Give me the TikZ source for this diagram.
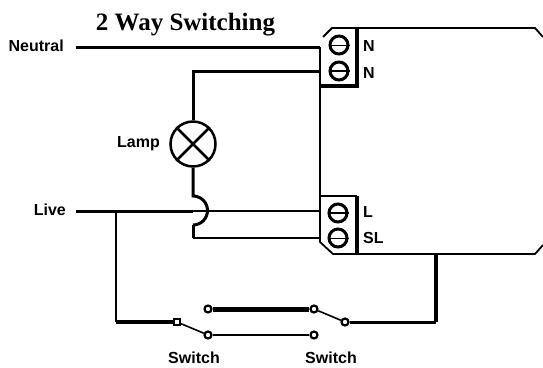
\documentclass[tikz,border=0pt]{standalone}
\usepackage{fontspec}
\setmainfont{Liberation Sans}
\newfontfamily\titlefont{Liberation Serif}
\tikzset{
  label/.style = {inner sep=0pt, font=\fontsize{16}{18}\selectfont\bfseries},
  thickwire/.style = {line width=3pt, line join=miter},
  thinwire/.style = {line width=1.6pt, line join=miter},
  casing/.style = {line width=1.8pt, line join=round},
  screw/.style = {circle, draw=black, line width=3pt, minimum size=18pt, inner sep=0pt},
  contact/.style = {circle, draw=black, fill=white, line width=2.2pt, minimum size=7pt, inner sep=0pt},
}
\begin{document}
\begin{tikzpicture}[x=1pt,y=-1pt]
\useasboundingbox (0,0) rectangle (543,367);
\node [inner sep=0pt, font=\titlefont\fontsize{25}{28}\selectfont\bfseries] (title) at (185.5,25) {2 Way Switching};
\node [label, anchor=east] (neutral) at (64,46) {Neutral};
\node [label, anchor=east] (live) at (66,210) {Live};
\node [label, anchor=east] (lamplabel) at (160,144) {Lamp};
\node [label] (switcha) at (194,358) {Switch};
\node [label] (switchb) at (331,358) {Switch};
% module outline
\coordinate (nw) at (320,47);
\coordinate (sw) at (320,242);
\draw [casing] (323,37) -- (332,28) -- (535,28) -- (543,37);
\draw [casing] (nw) -- (sw) -- (333,254) -- (535,254) -- (543,245);
\draw [casing] (320,196) -- (357,196);
\draw [line width=4pt] (357,28) -- (357,86) -- (320,86);
\draw [line width=4pt] (357,196) -- (357,254);
% terminals
\node [screw] (termn1) at (339,45) {};
\node [screw] (termn2) at (339,71) {};
\node [screw] (terml) at (338,213) {};
\node [screw] (termsl) at (338,238) {};
\draw [line width=1pt] (termn1.west) -- (termn1.east);
\draw [line width=2.5pt] (termn2.west) -- (termn2.east);
\draw [line width=2.5pt] (terml.west) -- (terml.east);
\draw [line width=1pt] (termsl.west) -- (termsl.east);
\node [label, anchor=west] (labeln1) at (363,46) {N};
\node [label, anchor=west] (labeln2) at (363,73) {N};
\node [label, anchor=west] (labell) at (363,212) {L};
\node [label, anchor=west] (labelsl) at (363,238) {SL};
% lamp
\node [circle, draw=black, line width=2.5pt, minimum size=45pt, inner sep=0pt] (lamp) at (193,144) {};
\draw [line width=2.5pt] (lamp.north west) -- (lamp.south east);
\draw [line width=2.5pt] (lamp.north east) -- (lamp.south west);
% switches
\node [contact, rectangle, minimum size=6pt] (pivota) at (177,322) {};
\node [contact] (lowa) at (208,335) {};
\node [contact] (upa) at (208,309) {};
\node [contact] (upb) at (314,309) {};
\node [contact] (lowb) at (314,335) {};
\node [contact] (pivotb) at (345,322) {};
% wires
\coordinate (hopt) at (193,196);
\coordinate (hopb) at (193,225);
\coordinate (bend) at (193,238);
\coordinate (tee) at (116,211);
\coordinate (drop) at (116,322);
\coordinate (feed) at (436,322);
\draw [thickwire] (76,47) coordinate (neutralend) -- (nw);
\draw [thickwire] (lamp.north) -- (193,71) -- (320,71);
\draw [thickwire] (lamp.south) -- (hopt) arc (-90:90:14.5);
\draw [thickwire] (hopb) -- (bend);
\draw [thinwire] (bend) -- (320,238);
\draw [thickwire] (76,211) coordinate (liveend) -- (193,211);
\draw [thinwire] (193,211) -- (320,211);
\draw [thinwire] (tee) -- (drop);
\draw [line width=4pt] (drop) -- (pivota);
\draw [thinwire] (pivota) -- (lowa);
\draw [line width=2.2pt] (lowa) -- (lowb);
\draw [line width=5pt] (upa) -- (upb);
\draw [thinwire] (upb) -- (pivotb);
\draw [line width=3pt] (pivotb) -- (feed);
\draw [line width=4.5pt] (feed) -- (436,254);
\end{tikzpicture}
\end{document}
